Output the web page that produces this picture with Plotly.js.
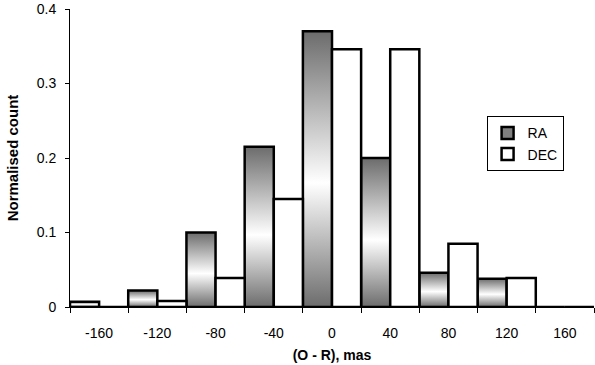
<!DOCTYPE html>
<html>
<head>
<meta charset="utf-8">
<script src="https://cdn.plot.ly/plotly-3.0.1.min.js"></script>
<style>
  html, body { margin: 0; padding: 0; background: #fff; }
  #chart { width: 595px; height: 365px; }
</style>
</head>
<body>
<div id="chart"></div>
<script>
// bin centres (O - R), mas
const bins = ['-160', '-120', '-80', '-40', '0', '40', '80', '120', '160'];

// normalised counts
const raCounts  = [0.007, 0.022, 0.100, 0.215, 0.370, 0.200, 0.046, 0.038, 0];
const decCounts = [0,     0.008, 0.039, 0.145, 0.346, 0.346, 0.085, 0.039, 0];

const yTicks = [0, 0.1, 0.2, 0.3, 0.4];
const yTickText = ['0', '0.1', '0.2', '0.3', '0.4'];

const font = 'Liberation Sans, Arial, sans-serif';

const raTrace = {
    x: bins,
    y: raCounts,
    name: 'RA',
    type: 'bar',
    marker: {color: '#808080', line: {color: '#000', width: 2.5}},
    hoverinfo: 'x+y'
};

const decTrace = {
    x: bins,
    y: decCounts,
    name: 'DEC',
    type: 'bar',
    marker: {color: '#ffffff', line: {color: '#000', width: 2.5}},
    hoverinfo: 'x+y'
};

const layout = {
    width: 595,
    height: 365,
    margin: {l: 70, r: 1, t: 9, b: 58},
    paper_bgcolor: '#fff',
    plot_bgcolor: '#fff',
    font: {family: font, size: 14, color: '#000'},
    barmode: 'group',
    bargap: 0,
    bargroupgap: 0,
    showlegend: true,
    legend: {
        x: 0.795, y: 0.64, xanchor: 'left', yanchor: 'top',
        bordercolor: '#000', borderwidth: 1,
        font: {family: font, size: 14},
        itemwidth: 30,
        tracegroupgap: 0
    },
    xaxis: {
        type: 'category',
        range: [-0.5, 8.5],
        showline: true, linecolor: '#000', linewidth: 1,
        ticks: 'outside', tickson: 'boundaries', ticklen: 5, tickcolor: '#000',
        ticklabelstandoff: 13,
        tickfont: {family: font, size: 14},
        showgrid: false, zeroline: false,
        title: {text: '<b>(O - R), mas</b>', font: {family: font, size: 14}, standoff: 10}
    },
    yaxis: {
        range: [0, 0.4],
        tickvals: yTicks,
        ticktext: yTickText,
        ticklabeloverflow: 'allow',
        showline: true, linecolor: '#000', linewidth: 1,
        ticks: 'outside', ticklen: 4, tickcolor: '#000',
        ticklabelstandoff: 6,
        tickfont: {family: font, size: 14},
        showgrid: false, zeroline: false,
        title: {text: '<b>Normalised count</b>', font: {family: font, size: 15}, standoff: 14}
    }
};

// Plotly has no gradient fill for bars, so shade the RA bars after drawing
function shadeRaBars(gd) {
    const svg = gd.querySelector('svg.main-svg');
    const defs = svg.querySelector('defs');
    const ns = 'http://www.w3.org/2000/svg';
    if (!svg.querySelector('#raGrad')) {
        const grad = document.createElementNS(ns, 'linearGradient');
        grad.setAttribute('id', 'raGrad');
        grad.setAttribute('x1', '0'); grad.setAttribute('y1', '0');
        grad.setAttribute('x2', '0'); grad.setAttribute('y2', '1');
        [['0', '#6c6c6c'], ['0.55', '#ffffff'], ['1', '#6c6c6c']].forEach(s => {
            const stop = document.createElementNS(ns, 'stop');
            stop.setAttribute('offset', s[0]);
            stop.setAttribute('stop-color', s[1]);
            grad.appendChild(stop);
        });
        defs.appendChild(grad);
    }
    const traces = gd.querySelectorAll('.barlayer .trace');
    if (traces.length) {
        traces[0].querySelectorAll('path').forEach(p => { p.style.fill = 'url(#raGrad)'; });
    }
}

Plotly.newPlot('chart', [raTrace, decTrace], layout, {staticPlot: true}).then(gd => {
    shadeRaBars(gd);
    gd.on('plotly_afterplot', () => shadeRaBars(gd));
});
</script>
</body>
</html>
